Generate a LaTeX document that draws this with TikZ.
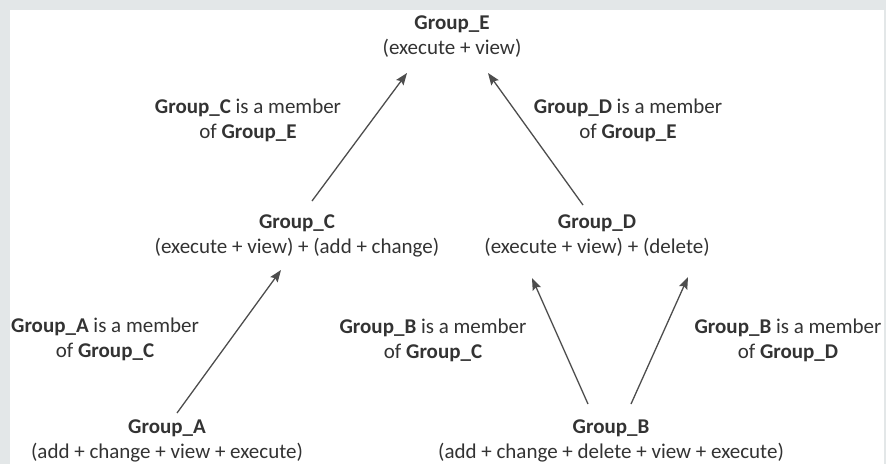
\documentclass[tikz,border=0pt]{standalone}
\usepackage{fontspec}
\setmainfont{Carlito}
\usepackage{tikz}
\usetikzlibrary{arrows.meta}
\definecolor{cText}{RGB}{51,51,51}
\definecolor{cLine}{RGB}{77,77,77}
\definecolor{cFrame}{RGB}{227,231,232}
\tikzset{
	grp/.style   ={align=center, inner sep=0pt, text=cText},
	memb/.style  ={align=center, inner sep=0pt, text=cText},
	member/.style={-{Stealth[length=12pt, width=9pt, inset=2pt]}, draw=cLine, line width=1.3pt},
}

\begin{document}
\begin{tikzpicture}[x=1pt, y=-1pt, font=\fontsize{21}{25}\selectfont]
	\useasboundingbox (0,0) rectangle (886,464);
	\fill[cFrame] (0,0) rectangle (886,464);
	\fill[white] (10,10) rectangle (884,464);
	% groups
	\node[grp] (gE) at (452,36.5) {\textbf{Group\_E}\\(execute + view)};
	\node[grp] (gC) at (297,236) {\textbf{Group\_C}\\(execute + view) + (add + change)};
	\node[grp] (gD) at (597,236) {\textbf{Group\_D}\\(execute + view) + (delete)};
	\node[grp] (gA) at (167,441) {\textbf{Group\_A}\\(add + change + view + execute)};
	\node[grp] (gB) at (611,441) {\textbf{Group\_B}\\(add + change + delete + view + execute)};
	% membership labels
	\node[memb] (mCE) at (248,120) {\textbf{Group\_C} is a member\\of \textbf{Group\_E}};
	\node[memb] (mDE) at (628,120) {\textbf{Group\_D} is a member\\of \textbf{Group\_E}};
	\node[memb] (mAC) at (105,339) {\textbf{Group\_A} is a member\\of \textbf{Group\_C}};
	\node[memb] (mBC) at (433,340) {\textbf{Group\_B} is a member\\of \textbf{Group\_C}};
	\node[memb] (mBD) at (788,340) {\textbf{Group\_B} is a member\\of \textbf{Group\_D}};
	\draw[member] ([shift={(15,-35)}]gC.center) -- ([shift={(-45,36.5)}]gE.center);
	\draw[member] ([shift={(-14,-31)}]gD.center) -- ([shift={(36,36.5)}]gE.center);
	\draw[member] ([shift={(10,-28)}]gA.center) -- ([shift={(-16,34)}]gC.center);
	\draw[member] ([shift={(-23,-37)}]gB.center) -- ([shift={(-65,42)}]gD.center);
	\draw[member] ([shift={(20,-37)}]gB.center) -- ([shift={(91,41)}]gD.center);
\end{tikzpicture}
\end{document}
